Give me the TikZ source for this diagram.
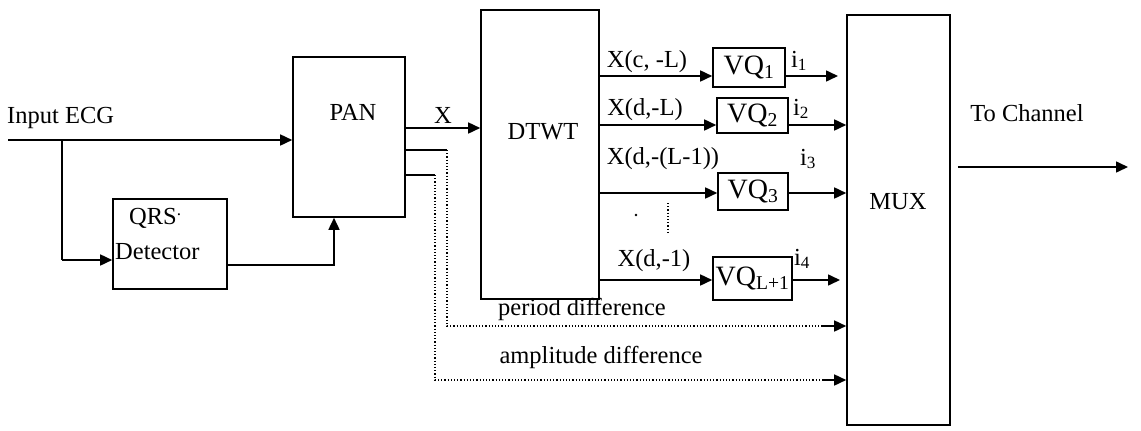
\documentclass[tikz,border=0pt]{standalone}
\usepackage{fontspec}
\setmainfont{Liberation Serif}
\usetikzlibrary{arrows.meta,positioning,calc}

\tikzset{
  blk/.style={draw, line width=1.6pt, inner sep=0pt},
  lbl/.style={font=\fontsize{24.5}{27}\selectfont, inner sep=0pt},
  vq/.style={blk, font=\fontsize{28}{30}\selectfont},
  wire/.style={line width=1.6pt},
  sig/.style={wire, -{Triangle[length=12pt,width=11pt]}},
  aux/.style={line width=1.2pt, dotted},
}

\begin{document}
\begin{tikzpicture}[x=1pt,y=-1pt]
  \useasboundingbox (0,0) rectangle (1141,431);

  % blocks
  \node[blk, minimum width=114pt, minimum height=90pt] (qrs) at (170,244) {};
  \node[lbl, align=left, anchor=west] (qrstxt) at (115,234)
    {\hspace*{14pt}QRS\textsuperscript{.}\\[8pt]Detector};
  \node[blk, minimum width=112pt, minimum height=160pt] (pan) at (349,137) {};
  \node[lbl] (pantxt) at (353,112) {PAN};
  \node[blk, minimum width=118pt, minimum height=289pt] (dtwt) at (540,154.5) {};
  \node[lbl] (dtwttxt) at (543,132) {DTWT};
  \node[blk, minimum width=103pt, minimum height=410pt] (mux) at (898.5,220) {};
  \node[lbl] (muxtxt) at (898,202) {MUX};

  \node[vq, minimum width=72pt, minimum height=39pt] (vq1) at (749,67.5) {VQ\textsubscript{1}};
  \node[vq, minimum width=71pt, minimum height=35pt] (vq2) at (752.5,115.5) {VQ\textsubscript{2}};
  \node[vq, minimum width=70pt, minimum height=37pt] (vq3) at (753,191.5) {VQ\textsubscript{3}};
  \node[vq, minimum width=79pt, minimum height=43pt] (vq4) at (752.5,278.5) {VQ\textsubscript{L+1}};

  % input and QRS detection
  \node[lbl, anchor=west] (ecglbl) at (7,118) {Input ECG};
  \coordinate (ecg) at (8,140);
  \coordinate (tap) at (62,140);
  \coordinate (tapq) at (62,260);
  \draw[sig] (ecg) -- (ecg -| pan.west);
  \draw[wire] (tap) -- (tapq);
  \draw[sig] (tapq) -- (tapq -| qrs.west);
  \draw[sig] ($(qrs.east)+(0,21)$) -| ($(pan.south)+(-15,0)$);

  % PAN outputs
  \coordinate (px) at (405,128);
  \draw[sig] (px) -- (px -| dtwt.west);
  \node[lbl] (xlbl) at (443,115) {X};
  \coordinate (pd) at (405,150);
  \coordinate (pdt) at (447,150);
  \coordinate (pde) at (822,326);
  \coordinate (ad) at (405,175);
  \coordinate (adt) at (435,175);
  \coordinate (ade) at (822,380);
  \draw[wire] (pd) -- (pdt);
  \draw[wire] (ad) -- (adt);
  \draw[aux] (pdt) |- (pde);
  \draw[aux] (adt) |- (ade);
  \draw[sig] (pde) -- (pde -| mux.west);
  \draw[sig] (ade) -- (ade -| mux.west);
  \node[lbl] (pdlbl) at (582,309) {period difference};
  \node[lbl] (adlbl) at (601,357) {amplitude difference};

  % subbands
  \coordinate (r1) at (599,76);
  \coordinate (r2) at (599,125);
  \coordinate (r3) at (599,193);
  \coordinate (r4) at (599,280);
  \coordinate (o1) at (838,76);
  \coordinate (o4) at (840,280);
  \draw[sig] (r1) -- (r1 -| vq1.west);
  \draw[sig] (r1 -| vq1.east) -- (o1);
  \draw[sig] (r2) -- (r2 -| vq2.west);
  \draw[sig] (r2 -| vq2.east) -- (r2 -| mux.west);
  \draw[sig] (r3) -- (r3 -| vq3.west);
  \draw[sig] (r3 -| vq3.east) -- (r3 -| mux.west);
  \draw[sig] (r4) -- (r4 -| vq4.west);
  \draw[sig] (r4 -| vq4.east) -- (o4);

  \node[lbl] (x1) at (647,62) {X(c, -L)};
  \node[lbl] (x2) at (645,110) {X(d,-L)};
  \node[lbl] (x3) at (663,159) {X(d,-(L-1))};
  \node[lbl] (x4) at (654,261) {X(d,-1)};
  \node[lbl] (i1) at (799,61) {i\textsubscript{1}};
  \node[lbl] (i2) at (801,109) {i\textsubscript{2}};
  \node[lbl] (i3) at (808,159) {i\textsubscript{3}};
  \node[lbl] (i4) at (802,259) {i\textsubscript{4}};

  \fill (636,215) circle (1.4pt);
  \draw[aux] (668,203) -- (668,233);

  % output
  \coordinate (ch) at (1128,167);
  \draw[sig] ($(mux.east |- ch)+(7,0)$) -- (ch);
  \node[lbl] (chlbl) at (1027,113) {To Channel};
\end{tikzpicture}
\end{document}
